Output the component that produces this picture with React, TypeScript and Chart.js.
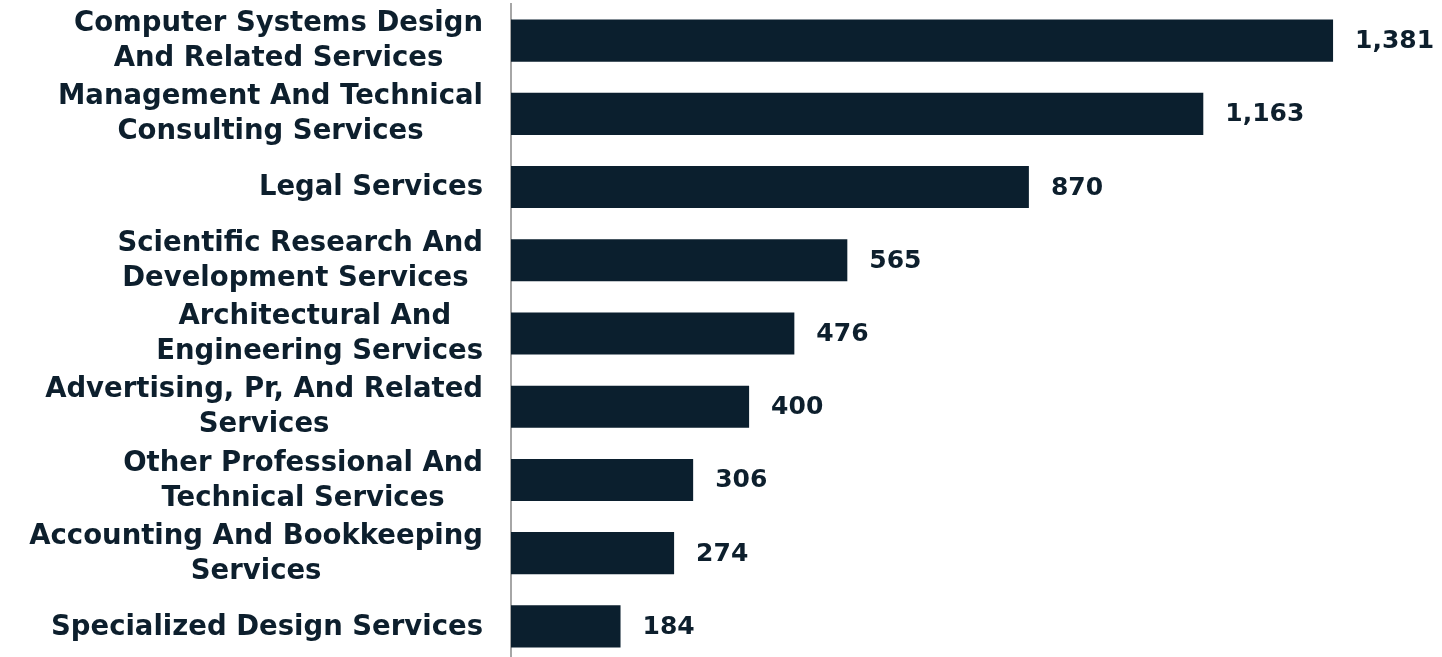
import React, { useEffect, useRef } from "react";
import { Chart, registerables } from "chart.js";

Chart.register(...registerables);

const categories: (string | string[])[] = [
  ["Computer Systems Design", "And Related Services"],
  ["Management And Technical", "Consulting Services"],
  "Legal Services",
  ["Scientific Research And", "Development Services "],
  ["Architectural And ", "Engineering Services"],
  ["Advertising, Pr, And Related", "Services"],
  ["Other Professional And", "Technical Services"],
  ["Accounting And Bookkeeping", "Services"],
  "Specialized Design Services",
];

const values: number[] = [1381, 1163, 870, 565, 476, 400, 306, 274, 184];

const BAR_COLOR = "#0b1f2e";
const TEXT_COLOR = "#0d1f2d";
const FONT_FAMILY = "'DejaVu Sans', sans-serif";
const LABEL_SIZE = 27.5;
const LINE_STEP = 35;
const LABEL_GAP = 28;

const valueLabels = {
  id: "valueLabels",
  afterDatasetsDraw(chart: any) {
    const ctx = chart.ctx;
    const meta = chart.getDatasetMeta(0);
    ctx.save();
    ctx.fillStyle = TEXT_COLOR;
    ctx.font = `bold 25px ${FONT_FAMILY}`;
    ctx.textAlign = "left";
    ctx.textBaseline = "middle";
    meta.data.forEach((bar: any, i: number) => {
      const v = chart.data.datasets[0].data[i] as number;
      ctx.fillText(v.toLocaleString("en-US"), bar.x + 22, bar.y + 1);
    });
    ctx.restore();
  },
};

const categoryLabels = {
  id: "categoryLabels",
  afterDraw(chart: any) {
    const ctx = chart.ctx;
    const yScale = chart.scales.y;
    const right = chart.chartArea.left - LABEL_GAP;
    ctx.save();
    ctx.fillStyle = TEXT_COLOR;
    ctx.font = `bold ${LABEL_SIZE}px ${FONT_FAMILY}`;
    ctx.textAlign = "center";
    ctx.textBaseline = "middle";
    (chart.data.labels as (string | string[])[]).forEach((lab, i) => {
      const lines = Array.isArray(lab) ? lab : [lab];
      const w = Math.max(...lines.map((l) => ctx.measureText(l).width));
      const cx = right - w / 2;
      const cy = yScale.getPixelForTick(i);
      const start = cy - ((lines.length - 1) * LINE_STEP) / 2;
      lines.forEach((l, k) => {
        ctx.fillText(l, cx, start + k * LINE_STEP + 1);
      });
    });
    ctx.restore();
  },
};

export default function App() {
  const canvasRef = useRef<HTMLCanvasElement | null>(null);

  useEffect(() => {
    if (!canvasRef.current) return;
    const chart = new Chart(canvasRef.current, {
      type: "bar",
      data: {
        labels: categories,
        datasets: [
          {
            data: values,
            backgroundColor: BAR_COLOR,
            borderWidth: 0,
            barPercentage: 0.575,
            categoryPercentage: 1,
          },
        ],
      },
      options: {
        indexAxis: "y",
        animation: false,
        responsive: true,
        maintainAspectRatio: false,
        layout: { padding: { top: 4, bottom: 0, left: 0, right: 0 } },
        plugins: {
          legend: { display: false },
          tooltip: { enabled: false },
        },
        scales: {
          x: {
            display: false,
            min: 0,
            max: 1564,
          },
          y: {
            grid: { display: false, drawTicks: false },
            border: { display: true, color: "#a6a6a6", width: 2 },
            afterFit: (scale: any) => {
              scale.width = 511;
              scale.paddingTop = 0;
              scale.paddingBottom = 0;
            },
            ticks: {
              autoSkip: false,
              color: "rgba(0,0,0,0)",
              padding: LABEL_GAP,
              font: { family: FONT_FAMILY, size: LABEL_SIZE, weight: "bold", lineHeight: 1.27 },
            },
          },
        },
      },
      plugins: [valueLabels, categoryLabels],
    });
    return () => chart.destroy();
  }, []);

  return (
    <div style={{ position: "fixed", left: 0, top: 0, width: 1442, height: 657, overflow: "hidden", background: "#ffffff" }}>
      <div style={{ position: "relative", width: 1442, height: 663 }}>
        <canvas ref={canvasRef} />
      </div>
    </div>
  );
}
